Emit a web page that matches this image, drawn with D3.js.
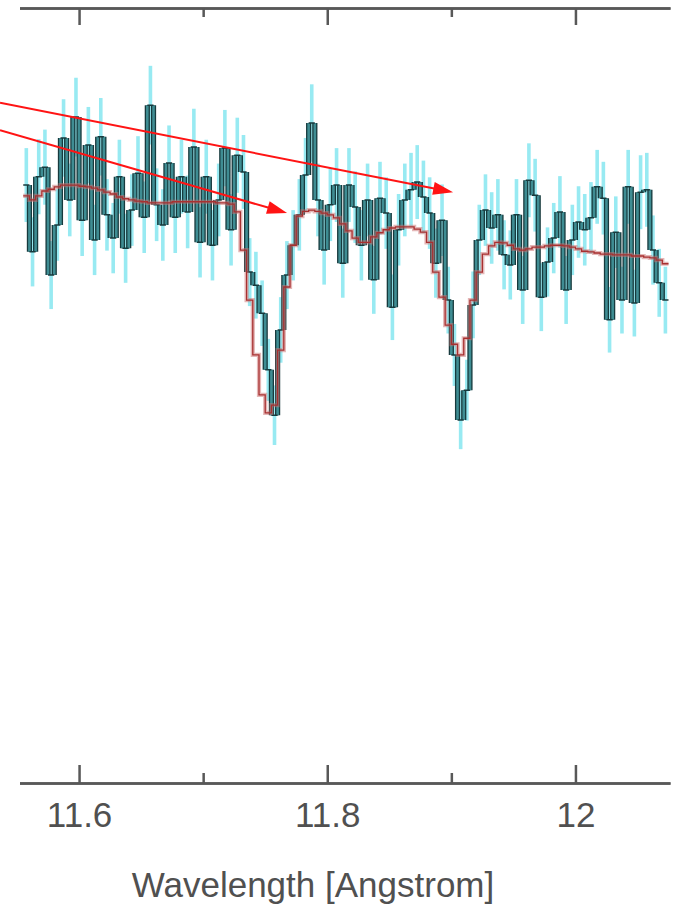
<!DOCTYPE html>
<html>
<head>
<meta charset="utf-8">
<script src="https://cdn.jsdelivr.net/npm/d3@7"></script>
<style>
  html, body { margin: 0; padding: 0; background: #ffffff; }
  svg { display: block; }
</style>
</head>
<body>
<svg id="chart" width="683" height="908"></svg>
<script>
// Spectrum binned at 0.005 Angstrom, first bin edge at 11.555 Angstrom
const binStart = 11.555;
const binWidth = 0.005;

// Observed flux per bin (continuum-normalised)
const flux = [
  1.003, 0.891, 1.017, 1.033, 0.852, 0.936, 1.082, 0.978, 1.117, 0.944,
  1.070, 0.911, 1.084, 0.953, 0.914, 1.017, 0.897, 0.961, 1.023, 0.949,
  1.137, 0.970, 0.936, 1.040, 0.949, 1.017, 0.958, 1.067, 0.907, 1.017,
  0.902, 0.978, 1.065, 0.928, 1.053, 1.025, 0.857, 0.835, 0.788, 0.693,
  0.617, 0.760, 0.852, 0.902, 0.953, 1.020, 1.107, 0.978, 0.894, 0.970,
  1.003, 0.872, 1.003, 0.966, 0.902, 0.978, 0.844, 0.981, 0.956, 0.798,
  0.928, 0.978, 0.995, 1.008, 0.983, 0.956, 0.872, 0.944, 0.810, 0.718,
  0.609, 0.659, 0.802, 0.911, 0.961, 0.931, 0.953, 0.886, 0.869, 0.953,
  0.827, 1.011, 0.986, 0.815, 0.874, 0.914, 0.958, 0.827, 0.911, 0.941,
  0.928, 0.948, 1.000, 0.981, 0.777, 0.924, 0.810, 1.000, 0.805, 0.991,
  0.995, 0.894, 0.839, 0.810
];

// 1-sigma uncertainty per bin
const fluxErr = [
  0.062, 0.058, 0.063, 0.063, 0.057, 0.060, 0.065, 0.061, 0.066, 0.060,
  0.064, 0.059, 0.065, 0.060, 0.059, 0.062, 0.058, 0.060, 0.062, 0.060,
  0.066, 0.061, 0.060, 0.063, 0.060, 0.062, 0.061, 0.064, 0.059, 0.062,
  0.059, 0.061, 0.064, 0.060, 0.063, 0.062, 0.057, 0.056, 0.055, 0.052,
  0.050, 0.055, 0.057, 0.059, 0.060, 0.062, 0.065, 0.061, 0.058, 0.061,
  0.062, 0.058, 0.062, 0.060, 0.059, 0.061, 0.057, 0.061, 0.060, 0.055,
  0.060, 0.061, 0.062, 0.062, 0.061, 0.060, 0.058, 0.060, 0.056, 0.052,
  0.049, 0.051, 0.056, 0.059, 0.060, 0.060, 0.060, 0.058, 0.058, 0.060,
  0.057, 0.062, 0.061, 0.057, 0.058, 0.059, 0.060, 0.057, 0.059, 0.060,
  0.060, 0.060, 0.062, 0.061, 0.055, 0.060, 0.056, 0.062, 0.056, 0.062,
  0.062, 0.058, 0.057, 0.056
];

// Best-fit absorption model per bin
const model = [
  0.985, 0.978, 0.985, 0.993, 0.996, 1.000, 1.003, 1.003, 1.003, 1.001,
  1.000, 0.998, 0.995, 0.991, 0.988, 0.983, 0.980, 0.978, 0.976, 0.975,
  0.973, 0.973, 0.973, 0.973, 0.975, 0.975, 0.975, 0.975, 0.975, 0.975,
  0.975, 0.973, 0.973, 0.971, 0.958, 0.894, 0.810, 0.718, 0.651, 0.621,
  0.634, 0.726, 0.832, 0.902, 0.951, 0.959, 0.961, 0.959, 0.956, 0.953,
  0.948, 0.938, 0.926, 0.914, 0.907, 0.907, 0.916, 0.923, 0.928, 0.931,
  0.933, 0.933, 0.933, 0.929, 0.924, 0.907, 0.857, 0.815, 0.768, 0.736,
  0.718, 0.746, 0.810, 0.857, 0.887, 0.901, 0.907, 0.906, 0.902, 0.896,
  0.894, 0.896, 0.899, 0.899, 0.901, 0.902, 0.902, 0.901, 0.899, 0.896,
  0.892, 0.891, 0.889, 0.887, 0.887, 0.886, 0.886, 0.886, 0.884, 0.884,
  0.882, 0.881, 0.877, 0.871
];

// Axis ticks
const xTicksMajor = [11.6, 11.8, 12.0];
const xTickLabels = ["11.6", "11.8", "12"];
const xTicksMinor = [11.7, 11.9];
const xTitle = "Wavelength [Angstrom]";

// Annotation arrows [wavelength, flux]
const arrowFrom = [[11.5363, 1.141], [11.5363, 1.095]];
const arrowTo   = [[11.9014, 0.991], [11.7676, 0.956]];

// ---------------------------------------------------------------
const svg = d3.select("#chart");

const x = d3.scaleLinear().domain([11.552, 12.0762]).range([19.5, 670]);
const y = d3.scaleLinear().domain([0, 1.3]).range([783, 8]);

const edges = d3.range(flux.length + 1).map(i => binStart + i * binWidth);
const centers = flux.map((_, i) => binStart + (i + 0.5) * binWidth);

const axisColor = "#585858";
const textColor = "#505050";
const fontFamily = "'Liberation Sans', Arial, sans-serif";

// Error bars
svg.append("g")
  .selectAll("line")
  .data(flux)
  .join("line")
  .attr("x1", (d, i) => x(centers[i]))
  .attr("x2", (d, i) => x(centers[i]))
  .attr("y1", (d, i) => y(d + fluxErr[i]))
  .attr("y2", (d, i) => y(d - fluxErr[i]))
  .attr("stroke", "#70e2ed")
  .attr("stroke-opacity", 0.72)
  .attr("stroke-width", 3.6);

// Histogram of the data: thick risers, thin treads
const risers = d3.path();
for (let i = 1; i < flux.length; i++) {
  risers.moveTo(x(edges[i]), y(flux[i - 1]));
  risers.lineTo(x(edges[i]), y(flux[i]));
}
const treads = d3.path();
for (let i = 0; i < flux.length; i++) {
  treads.moveTo(x(edges[i]), y(flux[i]));
  treads.lineTo(x(edges[i + 1]), y(flux[i]));
}
svg.append("path").attr("d", risers.toString())
  .attr("fill", "none").attr("stroke", "#173a3d").attr("stroke-width", 5.2);
svg.append("path").attr("d", risers.toString())
  .attr("fill", "none").attr("stroke", "#3f8d93").attr("stroke-width", 2.6);
svg.append("path").attr("d", treads.toString())
  .attr("fill", "none").attr("stroke", "#173a3d").attr("stroke-width", 1.5);

// Model as a stepped line
const stepLine = d3.line()
  .x(d => x(d[0]))
  .y(d => y(d[1]))
  .curve(d3.curveStepAfter);
const modelPts = model.map((v, i) => [edges[i], v]);
modelPts.push([edges[model.length], model[model.length - 1]]);

svg.append("path").attr("d", stepLine(modelPts))
  .attr("fill", "none").attr("stroke", "#c97070").attr("stroke-opacity", 0.5)
  .attr("stroke-width", 4.2);
svg.append("path").attr("d", stepLine(modelPts))
  .attr("fill", "none").attr("stroke", "#a83030").attr("stroke-width", 1.3);

// Axes: bottom with labels, top plain; ticks point inward
function styleAxis(g) {
  g.selectAll(".domain").attr("stroke", axisColor).attr("stroke-width", 2.5)
    .attr("stroke-linecap", "butt");
  g.selectAll(".tick line").attr("stroke", axisColor).attr("stroke-width", 2.5);
  g.selectAll(".tick text")
    .attr("fill", textColor)
    .style("font-family", fontFamily)
    .style("font-size", "35px");
}

svg.append("g")
  .attr("transform", `translate(0,${y(0)})`)
  .call(d3.axisBottom(x).tickValues(xTicksMajor)
    .tickFormat((d, i) => xTickLabels[i])
    .tickSizeInner(-18).tickSizeOuter(0).tickPadding(19))
  .call(styleAxis);
svg.append("g")
  .attr("transform", `translate(0,${y(0)})`)
  .call(d3.axisBottom(x).tickValues(xTicksMinor).tickFormat("")
    .tickSizeInner(-10).tickSizeOuter(0))
  .call(styleAxis);

svg.append("g")
  .attr("transform", `translate(0,${y(1.3)})`)
  .call(d3.axisTop(x).tickValues(xTicksMajor).tickFormat("")
    .tickSizeInner(-17).tickSizeOuter(0))
  .call(styleAxis);
svg.append("g")
  .attr("transform", `translate(0,${y(1.3)})`)
  .call(d3.axisTop(x).tickValues(xTicksMinor).tickFormat("")
    .tickSizeInner(-9).tickSizeOuter(0))
  .call(styleAxis);

// Axis title
svg.append("text")
  .attr("x", 313)
  .attr("y", 897)
  .attr("text-anchor", "middle")
  .attr("fill", textColor)
  .style("font-family", fontFamily)
  .style("font-size", "35px")
  .text(xTitle);

// Annotation arrows
const headLen = 20, headHalf = 6.5;
arrowFrom.forEach((from, k) => {
  const x0 = x(from[0]), y0 = y(from[1]);
  const x1 = x(arrowTo[k][0]), y1 = y(arrowTo[k][1]);
  const len = Math.hypot(x1 - x0, y1 - y0);
  const ux = (x1 - x0) / len, uy = (y1 - y0) / len;
  const bx = x1 - ux * headLen, by = y1 - uy * headLen;
  svg.append("line")
    .attr("x1", x0).attr("y1", y0).attr("x2", bx + ux * 2).attr("y2", by + uy * 2)
    .attr("stroke", "#ff1414").attr("stroke-width", 2);
  svg.append("polygon")
    .attr("points", [
      [x1, y1],
      [bx - uy * headHalf, by + ux * headHalf],
      [bx + uy * headHalf, by - ux * headHalf]
    ].map(p => p.join(",")).join(" "))
    .attr("fill", "#ff1414");
});
</script>
</body>
</html>
